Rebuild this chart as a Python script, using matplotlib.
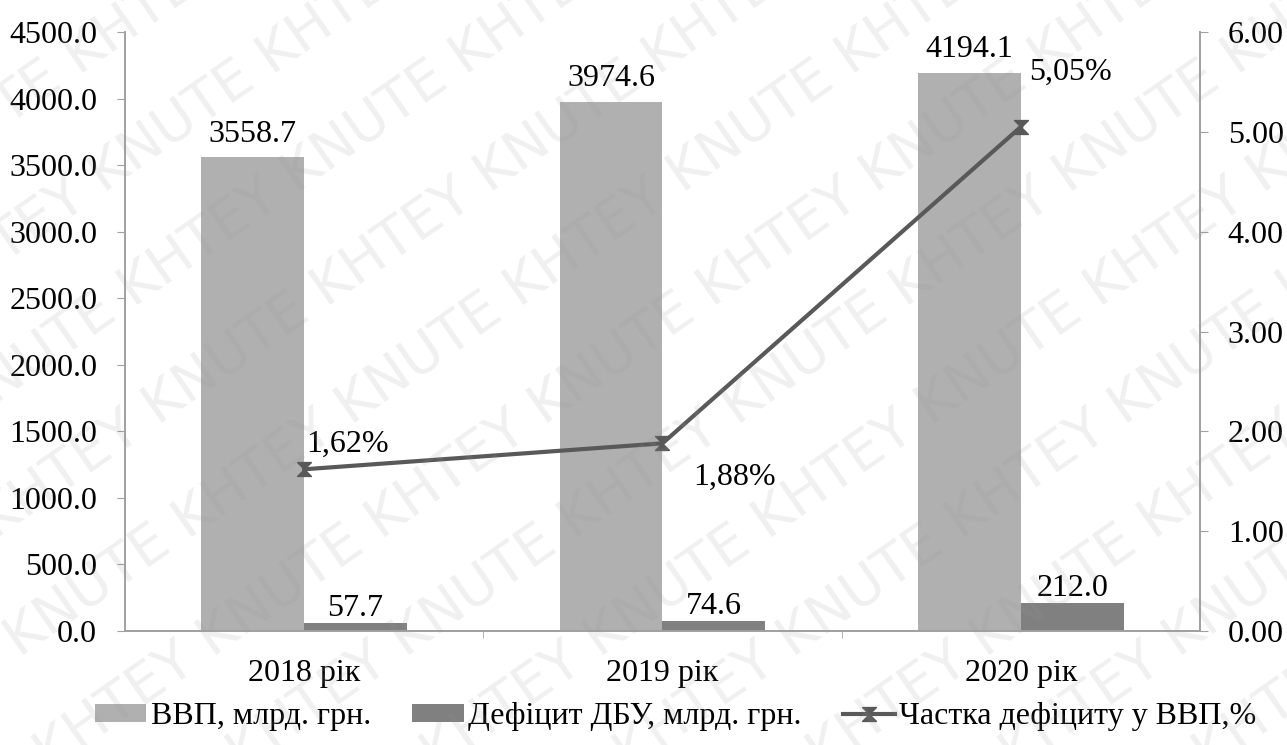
import matplotlib.pyplot as plt
import numpy as np
from matplotlib.path import Path

plt.rcParams['font.family'] = ['Liberation Serif', 'DejaVu Serif']

years = ['2018 рік', '2019 рік', '2020 рік']
gdp = [3558.7, 3974.6, 4194.1]
deficit = [57.7, 74.6, 212.0]
share = [1.62, 1.88, 5.05]
share_labels = ['1,62%', '1,88%', '5,05%']

fig = plt.figure(figsize=(12.87, 7.45), dpi=100)
ax = fig.add_axes([0.0971, 0.153, 0.8353, 0.804])
ax2 = ax.twinx()

x = np.arange(len(years))
w = 0.287
axis_col = '#a0a0a0'
fs = 23

ax.bar(x - w / 2, gdp, w, color='#b0b0b0', label='ВВП, млрд. грн.', zorder=2)
ax.bar(x + w / 2, deficit, w, color='#808080', label='Дефіцит ДБУ, млрд. грн.', zorder=2)
for xi, v in zip(x, gdp):
    ax.text(xi - w / 2, v + 65, f'{v:.1f}', ha='center', va='bottom', fontsize=fs)
for xi, v in zip(x, deficit):
    ax.text(xi + w / 2, v + 0, f'{v:.1f}', ha='center', va='bottom', fontsize=fs)

# hourglass marker with flat caps
hg = Path([(-1, 1), (1, 1), (0, 0), (1, -1), (-1, -1), (0, 0), (-1, 1)],
          [Path.MOVETO, Path.LINETO, Path.LINETO, Path.LINETO, Path.LINETO,
           Path.LINETO, Path.CLOSEPOLY])
ax2.plot(x, share, color='#595959', lw=3, marker=hg, ms=10,
         mfc='#595959', mec='#595959', label='Частка дефіциту у ВВП,%', zorder=3)
offsets = [(0.12, 0.1), (0.2, -0.2), (0.14, 0.4)]
for xi, v, t, (dx, dy) in zip(x, share, share_labels, offsets):
    ax2.text(xi + dx, v + dy, t, ha='center', va='bottom' if dy > 0 else 'top', fontsize=fs)

ax.set_xlim(-0.5, 2.5)
ax.set_ylim(0, 4500)
ax.set_yticks(np.arange(0, 4501, 500))
ax.set_yticklabels([f'{v:.1f}' for v in np.arange(0, 4501, 500)])
ax2.set_ylim(0, 6)
ax2.set_yticks(np.arange(0, 6.01, 1))
ax2.set_yticklabels([f'{v:.2f}' for v in np.arange(0, 6.01, 1)])

ax.set_xticks(x)
ax.set_xticklabels(years)
ax.set_xticks([0.5, 1.5], minor=True)
ax.tick_params(axis='x', which='major', length=0, pad=20, labelsize=fs)
ax.tick_params(axis='x', which='minor', length=5, color=axis_col)
ax.tick_params(axis='y', length=6, color=axis_col, labelsize=fs, pad=14)
ax2.tick_params(axis='y', length=6, color=axis_col, labelsize=fs, pad=14)

for a in (ax, ax2):
    a.spines['top'].set_visible(False)
    for s in ('left', 'right', 'bottom'):
        a.spines[s].set_color(axis_col)
        a.spines[s].set_linewidth(1.2)

h1, l1 = ax.get_legend_handles_labels()
h2, l2 = ax2.get_legend_handles_labels()
fig.legend(h1 + h2, l1 + l2, loc='center', bbox_to_anchor=(0.525, 0.038), ncol=3,
           frameon=False, fontsize=fs, handlelength=1.6, handleheight=0.5,
           handletextpad=0.15, columnspacing=1.3)

# diagonal watermark, clipped to the figure area
wm = 'KHTEY KNUTE KHTEY KNUTE KHTEY KNUTE KHTEY KNUTE'
for i in range(-5, 8):
    fig.text(0.02 + i * 0.15, -0.05, wm, rotation=35, fontsize=40,
             family='DejaVu Sans', color='#999999', alpha=0.15,
             ha='left', va='bottom', zorder=10, clip_on=True)

fig.savefig('out.png', dpi=100)
